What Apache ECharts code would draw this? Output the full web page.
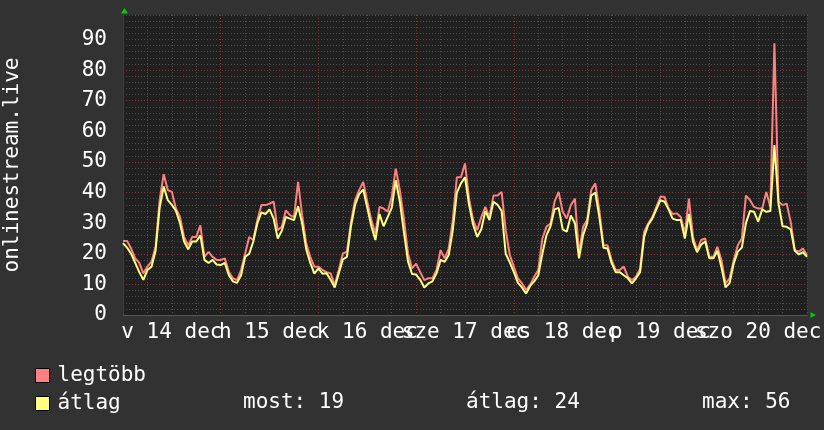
<!DOCTYPE html>
<html><head><meta charset="utf-8">
<script src="https://cdn.jsdelivr.net/npm/echarts@6/dist/echarts.min.js"></script>
<style>html,body{margin:0;padding:0;background:#323232}#c{width:824px;height:430px}</style>
</head><body><div id="c"></div>
<script>
// Day labels (one per day, 24 hours each)
const dayLabels = ['v 14 dec', 'h 15 dec', 'k 16 dec', 'sze 17 dec', 'cs 18 dec', 'p 19 dec', 'szo 20 dec'];
// Y tick labels
const yTicks = [0, 10, 20, 30, 40, 50, 60, 70, 80, 90];
const seriesNames = ['legtöbb', 'átlag'];
const statLabels = ['most: 19', 'átlag: 24', 'max: 56'];
// Hourly values, hour 0 .. 168
const maxVals = [
  24.2, 24.2, 21.7, 18.5, 17, 13.6, 15.8, 17.4, 22.3, 37.5, 46, 40.8, 40.2, 34.8, 32, 25.5, 22.8, 25.5, 25.5, 29.3, 19, 20.6, 19, 18,
  18, 18.5, 14, 12, 11.4, 14.7, 20, 25.5, 24.5, 31, 35.9, 35.9, 36.4, 37, 27.7, 28.8, 34.2, 32.6, 32, 43.5, 32.6, 23.4, 19, 15.8,
  15.8, 14.7, 14, 13.6, 9.8, 14.7, 20.1, 20.7, 30.4, 37.5, 40.8, 43.5, 37, 31, 26.6, 35.3, 34.8, 33.7, 38.6, 47.8, 40.8, 31.5, 20.1, 15.2,
  16.8, 14, 11.4, 12, 12, 14.7, 21.2, 18.5, 21.7, 31, 45, 45, 49.5, 38, 31, 27.7, 32, 35.3, 32, 39, 39, 40.2, 27.7, 19.6,
  15.8, 12, 10.3, 8.2, 9.8, 12.5, 14.7, 25, 28.8, 29.9, 37, 40.2, 33.7, 31.5, 35.9, 38, 20.1, 28.8, 31, 40.8, 43, 34.2, 22.8, 22.8,
  18, 14.7, 14.7, 15.8, 12.5, 11.4, 12.5, 15, 27.2, 29.9, 32, 35.3, 38.6, 38.6, 34.8, 33, 33.2, 32, 26.6, 38, 25.5, 21.2, 24.5, 25,
  19, 19, 22.3, 17.9, 10.3, 12, 17.9, 22.8, 25, 39, 37.5, 35.3, 34.8, 34.8, 40.2, 35.3, 88.8, 37, 35.9, 36.4, 30.4, 21.2, 20.7, 21.7,
  19.5
];
const avgVals = [
  23.5, 22, 20, 17, 14, 11.5, 14.7, 15.8, 21, 35, 42, 37.5, 36, 34, 30, 24, 21.5, 24, 24, 26, 18, 17, 18, 16.5,
  16.3, 17, 13, 11, 10.5, 13, 19, 20, 24, 30, 33.5, 33, 34.5, 31.5, 25, 27.5, 32, 31.5, 31, 35.5, 29.9, 21.5, 17, 13.5,
  15.2, 13.5, 13.6, 11.5, 9, 13.6, 18.2, 19, 29, 36, 39.5, 41, 35, 29, 24.5, 33, 29, 32, 35, 44, 37, 27, 17.5, 13.4,
  13.2, 11.5, 9, 10.3, 11, 13.6, 18, 17.4, 19.6, 27.7, 40, 43, 45, 36, 29.5, 25.5, 28, 34, 31, 37, 36, 34, 20, 17.2,
  14, 10.5, 9, 7, 9.5, 11, 13, 20, 26, 29, 34.5, 35, 28, 27.2, 32.5, 30, 18.5, 26, 30, 39, 40, 32, 22, 21.7,
  17, 14, 14, 13, 12, 10.3, 12, 14, 25.5, 29.5, 31.5, 34.5, 37.5, 37, 34.5, 31.5, 31, 31, 25, 33, 24, 20.5, 23, 24,
  18.5, 18.5, 21, 15.5, 9, 10.5, 16.8, 20.7, 22, 30, 34, 33.7, 30.5, 34.5, 33.7, 34, 55.5, 36.4, 29, 28.8, 28, 21, 19.8, 20.5,
  19
];
const colors = ['#ff8080', '#ffff80'];
const FONT = '"DejaVu Sans Mono", monospace';
const HOURS = 24 * dayLabels.length;
const YMAX = 98;

const chart = echarts.init(document.getElementById('c'), null, {renderer: 'canvas'});
const minorLine = {show: true, lineStyle: {color: '#4c4c4c', type: [1, 2], width: 1}};
const majorLine = {show: true, lineStyle: {color: '#7e3535', type: [1, 2], width: 1}};
const labelBase = {show: true, hideOverlap: false, showMinLabel: true, showMaxLabel: true,
  formatter: v => dayLabels[Math.floor(v / 24)], color: '#ffffff', fontFamily: FONT, fontSize: 21, margin: 7};
const noonOf = i => i * 24 + 12;
chart.setOption({
  backgroundColor: '#323232',
  animation: false,
  grid: {left: 123, top: 15, width: 684, height: 300, show: true, backgroundColor: '#202020', borderWidth: 0,
         containLabel: false, outerBoundsMode: 'none'},
  xAxis: [
    {type: 'value', position: 'bottom', min: 0, max: HOURS, interval: 6,
     axisLine: {show: true, onZero: false, lineStyle: {color: '#555'}}, axisTick: {show: false},
     axisLabel: {show: false}, splitLine: minorLine},
    {type: 'value', position: 'bottom', min: 0, max: HOURS, interval: 24,
     axisLine: {show: false}, axisTick: {show: false},
     axisLabel: Object.assign({customValues: dayLabels.map((d, i) => i).filter(i => i % 2 === 0).map(noonOf)}, labelBase),
     splitLine: majorLine},
    {type: 'value', position: 'bottom', min: 0, max: HOURS, interval: 24,
     axisLine: {show: false}, axisTick: {show: false},
     axisLabel: Object.assign({customValues: dayLabels.map((d, i) => i).filter(i => i % 2 === 1).map(noonOf)}, labelBase),
     splitLine: {show: false}}
  ],
  yAxis: [
    {type: 'value', position: 'left', min: 0, max: YMAX, interval: 2,
     axisLine: {show: true, onZero: false, lineStyle: {color: '#3c3c3c'}}, axisTick: {show: false},
     axisLabel: {show: false}, splitLine: minorLine},
    {type: 'value', position: 'left', min: 0, max: YMAX, interval: 10,
     axisLine: {show: false}, axisTick: {show: false, customValues: yTicks},
     axisLabel: {show: true, customValues: yTicks, color: '#ffffff', fontFamily: FONT, fontSize: 21, margin: 16},
     splitLine: majorLine,
     name: 'onlinestream.live', nameLocation: 'middle', nameGap: 100, nameRotate: 90,
     nameTextStyle: {color: '#ffffff', fontFamily: FONT, fontSize: 21}}
  ],
  legend: {
    data: seriesNames, left: 30, top: 360, orient: 'vertical', icon: 'rect',
    itemWidth: 14, itemHeight: 14, itemGap: 7, selectedMode: false,
    itemStyle: {borderColor: '#000', borderWidth: 1},
    textStyle: {color: '#ffffff', fontFamily: FONT, fontSize: 21, lineHeight: 21, padding: [0, 0, 0, 3]}
  },
  series: [
    {name: seriesNames[0], type: 'line', xAxisIndex: 0, yAxisIndex: 0, showSymbol: false, z: 3,
     itemStyle: {color: colors[0]}, lineStyle: {color: colors[0], width: 2},
     data: maxVals.map((v, i) => [i, v])},
    {name: seriesNames[1], type: 'line', xAxisIndex: 0, yAxisIndex: 0, showSymbol: false, z: 4,
     itemStyle: {color: colors[1]}, lineStyle: {color: colors[1], width: 2},
     data: avgVals.map((v, i) => [i, v])}
  ],
  graphic: [
    {type: 'polygon', shape: {points: [[121, 13.5], [128, 13.5], [124.5, 8]]}, style: {fill: '#00cc00'}},
    {type: 'polygon', shape: {points: [[810.5, 312], [810.5, 318], [816, 315]]}, style: {fill: '#00cc00'}},
    {type: 'text', left: 243, top: 392, style: {text: statLabels[0], fill: '#ffffff', font: '21px ' + FONT}},
    {type: 'text', left: 466, top: 392, style: {text: statLabels[1], fill: '#ffffff', font: '21px ' + FONT}},
    {type: 'text', left: 702, top: 392, style: {text: statLabels[2], fill: '#ffffff', font: '21px ' + FONT}}
  ]
});
</script></body></html>
